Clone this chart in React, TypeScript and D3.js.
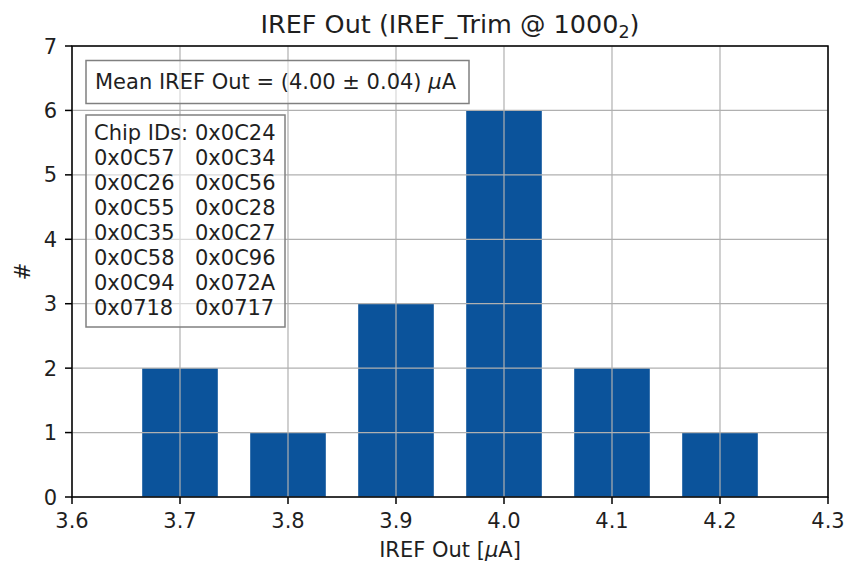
import React from "react";
import * as d3 from "d3";

// Histogram of IREF output current, bin centres and counts
const binCenters = [3.7, 3.8, 3.9, 4.0, 4.1, 4.2];
const binCounts = [2, 1, 3, 6, 2, 1];
const binWidth = 0.07;

const xTicks = [3.6, 3.7, 3.8, 3.9, 4.0, 4.1, 4.2, 4.3];
const yTicks = [0, 1, 2, 3, 4, 5, 6, 7];

const meanValue = "4.00";
const meanError = "0.04";

const chipIdHeader = "Chip IDs:";
const chipIdFirst = "0x0C24";
const chipIdLeft = ["0x0C57", "0x0C26", "0x0C55", "0x0C35", "0x0C58", "0x0C94", "0x0718"];
const chipIdRight = ["0x0C34", "0x0C56", "0x0C28", "0x0C27", "0x0C96", "0x072A", "0x0717"];

const W = 846;
const H = 563;
const M = { left: 72, right: 828, top: 46, bottom: 497 };
const FONT = "'DejaVu Sans', sans-serif";
const BAR = "#0b539b";
const GRID = "#b0b0b0";
const TEXT = "#1f1f1f";
const FS = 21;

export default function App() {
  const x = d3.scaleLinear().domain([3.6, 4.3]).range([M.left, M.right]);
  const y = d3.scaleLinear().domain([0, 7]).range([M.bottom, M.top]);

  const lineH = 25;
  const chipTop = 140;

  return (
    <svg
      width={W}
      height={H}
      style={{ position: "absolute", left: 0, top: 0, background: "#fff" }}
      fontFamily={FONT}
    >
      {/* bars */}
      {binCenters.map((c, i) => (
        <rect
          key={c}
          x={x(c - binWidth / 2)}
          y={y(binCounts[i])}
          width={x(c + binWidth / 2) - x(c - binWidth / 2)}
          height={y(0) - y(binCounts[i])}
          fill={BAR}
        />
      ))}

      {/* grid */}
      {xTicks.map((t) => (
        <line key={"gx" + t} x1={x(t)} x2={x(t)} y1={M.top} y2={M.bottom} stroke={GRID} strokeWidth={1.2} />
      ))}
      {yTicks.map((t) => (
        <line key={"gy" + t} x1={M.left} x2={M.right} y1={y(t)} y2={y(t)} stroke={GRID} strokeWidth={1.2} />
      ))}

      {/* annotation boxes */}
      <rect x={86} y={60.5} width={383} height={43} fill="#fff" fillOpacity={0.5} stroke="#808080" strokeWidth={1.5} />
      <text x={95} y={89} fontSize={FS} fill={TEXT}>
        {`Mean IREF Out = (${meanValue} ± ${meanError}) `}
        <tspan fontStyle="italic">μ</tspan>A
      </text>

      <rect x={86} y={115} width={199} height={212} fill="#fff" fillOpacity={0.5} stroke="#808080" strokeWidth={1.5} />
      <text x={94} y={chipTop} fontSize={FS} fill={TEXT}>{chipIdHeader}</text>
      <text x={195} y={chipTop} fontSize={FS} fill={TEXT}>{chipIdFirst}</text>
      {chipIdLeft.map((id, i) => (
        <text key={id} x={94} y={chipTop + lineH * (i + 1)} fontSize={FS} fill={TEXT}>{id}</text>
      ))}
      {chipIdRight.map((id, i) => (
        <text key={id} x={195} y={chipTop + lineH * (i + 1)} fontSize={FS} fill={TEXT}>{id}</text>
      ))}

      {/* axes frame */}
      <rect x={M.left} y={M.top} width={M.right - M.left} height={M.bottom - M.top} fill="none" stroke="#000" strokeWidth={1.5} />

      {/* x ticks */}
      {xTicks.map((t) => (
        <g key={"tx" + t}>
          <line x1={x(t)} x2={x(t)} y1={M.bottom} y2={M.bottom + 7} stroke="#000" strokeWidth={1.5} />
          <text x={x(t)} y={M.bottom + 30.5} fontSize={FS} textAnchor="middle" fill={TEXT}>
            {t.toFixed(1)}
          </text>
        </g>
      ))}
      {/* y ticks */}
      {yTicks.map((t) => (
        <g key={"ty" + t}>
          <line x1={M.left - 7} x2={M.left} y1={y(t)} y2={y(t)} stroke="#000" strokeWidth={1.5} />
          <text x={M.left - 15} y={y(t) + 7.5} fontSize={FS} textAnchor="end" fill={TEXT}>
            {t}
          </text>
        </g>
      ))}

      {/* axis labels */}
      <text x={(M.left + M.right) / 2} y={557} fontSize={FS} textAnchor="middle" fill={TEXT}>
        IREF Out [<tspan fontStyle="italic">μ</tspan>A]
      </text>
      <text transform={`translate(30, ${(M.top + M.bottom) / 2}) rotate(-90)`} fontSize={FS} textAnchor="middle" fill={TEXT}>
        #
      </text>

      {/* title */}
      <text x={(M.left + M.right) / 2} y={33} fontSize={25.5} textAnchor="middle" fill={TEXT}>
        IREF Out (IREF_Trim @ 1000<tspan fontSize={17.5} dy={5}>2</tspan><tspan dy={-5}>)</tspan>
      </text>
    </svg>
  );
}
